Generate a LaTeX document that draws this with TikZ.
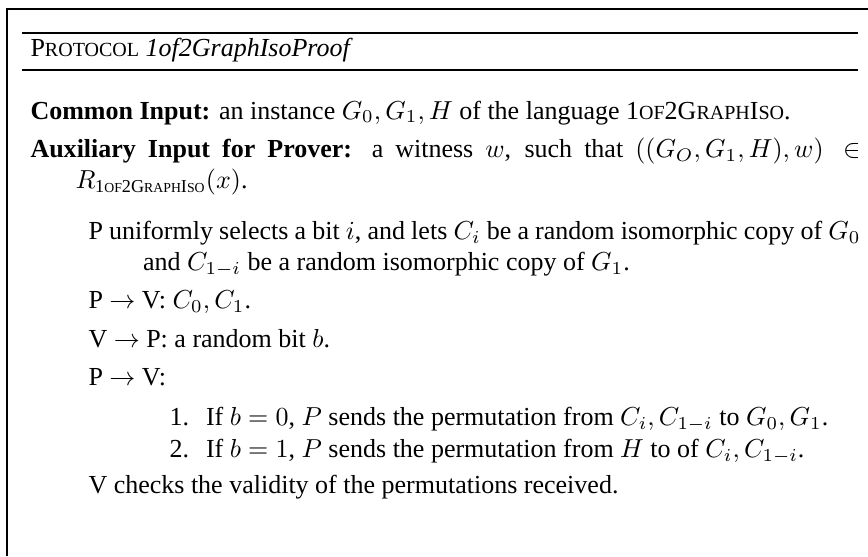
\documentclass[tikz,border=0pt]{standalone}
\usepackage{fontspec}
\setmainfont{Liberation Serif}
% faux small capitals (the text face has none)
\newcommand\fakesc[1]{{\fontsize{7.7}{9}\selectfont #1}}
\newcommand\subsc[1]{{\fontsize{5.3}{6}\selectfont #1}}
\newcommand\langtext{1\fakesc{OF}2G\fakesc{RAPH}I\fakesc{SO}}
\newcommand\langsub{\mbox{\fontsize{7}{8}\selectfont 1\subsc{OF}2G\subsc{RAPH}I\subsc{SO}}}
\newcommand\msg[2]{#1 $\rightarrow$ #2}
\newcommand\numitem[1]{\noindent\llap{#1.\hspace{0.65em}}}
\begin{document}
\begin{tikzpicture}[x=0.3846pt,y=-0.3846pt,
  frame/.style={line width=0.85pt},
  rule/.style={line width=0.75pt},
  txt/.style={inner sep=0pt,anchor=base west,font=\fontsize{10}{11.8}\selectfont}]
\useasboundingbox (0,0) rectangle (868,556);
% outer frame: top and left edges
\coordinate (tr) at (868,9);
\coordinate (tl) at (7,9);
\coordinate (bl) at (7,556);
\draw[frame] (tr) -- (tl) -- (bl);
% title rules
\coordinate (ra) at (22,33);
\coordinate (rb) at (858,33);
\coordinate (rc) at (22,70);
\coordinate (rd) at (858,70);
\draw[rule] (ra) -- (rb);
\draw[rule] (rc) -- (rd);
% title
\node[txt] (title) at (30,56) {P\fakesc{ROTOCOL} \textit{1of2GraphIsoProof}};
% protocol body
\node[txt] (body) at (30,119) {\parbox[t]{319.2pt}{%
  \fontsize{10}{11.8}\selectfont
  \parindent=0pt \parskip=3pt
  \hangindent=17.3pt\hangafter=1
  \textbf{Common Input:} an instance $G_0, G_1, H$ of the language \langtext.\par
  \hangindent=17.3pt\hangafter=1
  \textbf{Auxiliary Input for Prover:} a witness $w$, such that $((G_O, G_1, H), w) \in$\linebreak
  $R_{\langsub}(x)$.\par
  \vspace{5pt}
  \leftskip=22.3pt
  \hangindent=21pt\hangafter=1
  P uniformly selects a bit $i$, and lets $C_i$ be a random isomorphic copy of $G_0$\linebreak
  and $C_{1-i}$ be a random isomorphic copy of $G_1$.\par
  \msg{P}{V}: $C_0, C_1$.\par
  \msg{V}{P}: a random bit $b$.\par
  \msg{P}{V}:\par
  \vspace{3pt}
  {\leftskip=67.5pt \parskip=0.5pt
  \numitem{1}If $b=0$, $P$ sends the permutation from $C_i, C_{1-i}$ to $G_0, G_1$.\par
  \numitem{2}If $b=1$, $P$ sends the permutation from $H$ to of $C_i, C_{1-i}$.\par}
  \vspace{-1pt}
  V checks the validity of the permutations received.\par}};
\end{tikzpicture}
\end{document}
